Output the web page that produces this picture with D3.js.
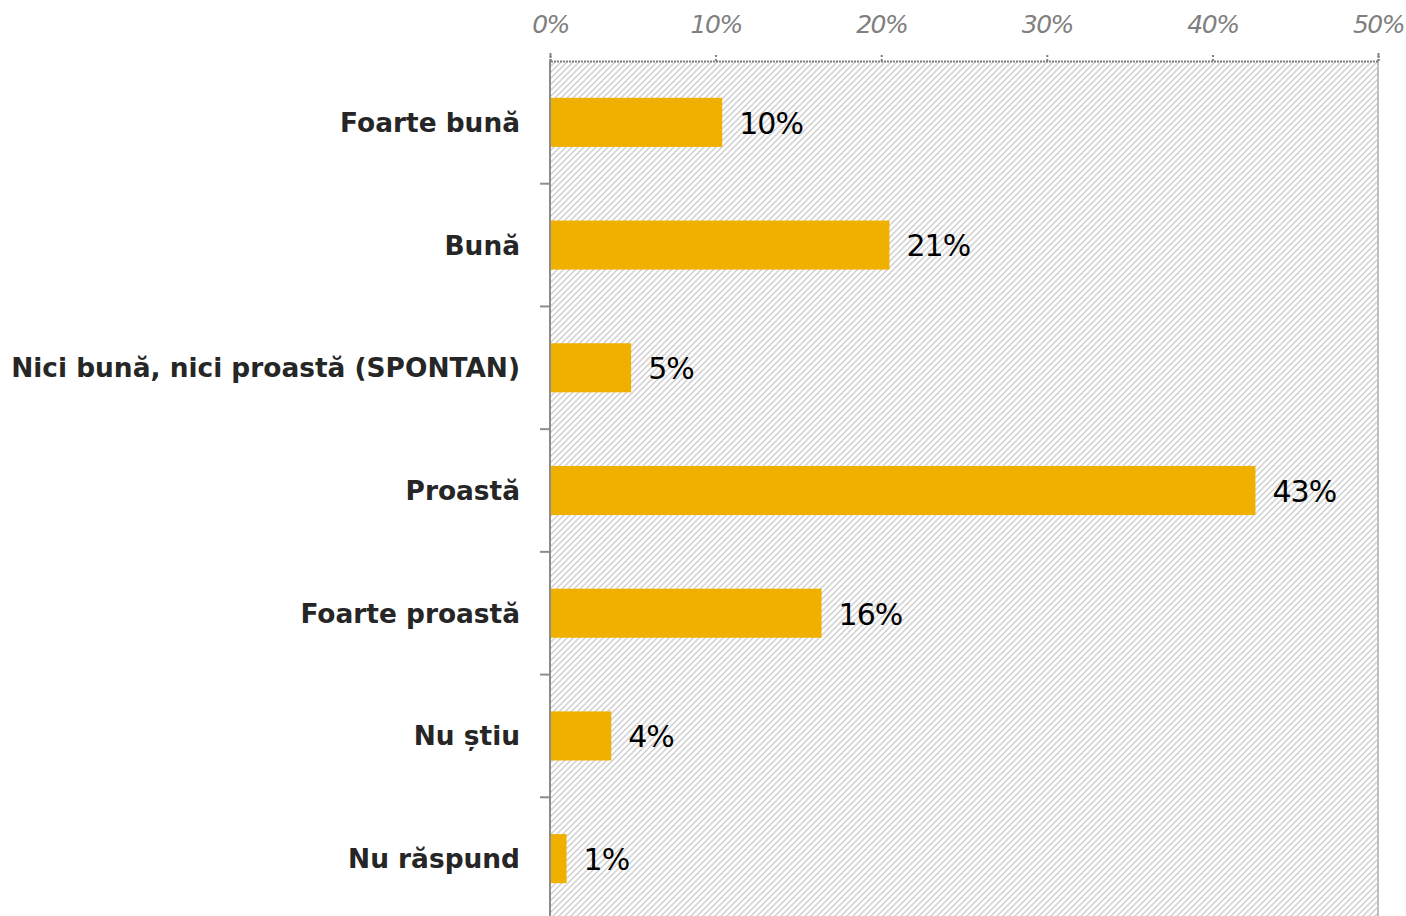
<!DOCTYPE html>
<html>
<head>
<meta charset="utf-8">
<script src="https://cdn.jsdelivr.net/npm/d3@7"></script>
<style>
  body { margin: 0; background: #fff; }
  svg { display: block; }
</style>
</head>
<body>
<div id="chart"></div>
<script>
// data
var categories = ["Foarte bună", "Bună", "Nici bună, nici proastă (SPONTAN)", "Proastă", "Foarte proastă", "Nu știu", "Nu răspund"];
var values = [10.4, 20.5, 4.9, 42.6, 16.4, 3.7, 1.0];
var xTicks = [0, 10, 20, 30, 40, 50];

var margin = {top: 61, right: 28, bottom: -4, left: 550};
var W = 1406, H = 916;
var width = W - margin.left - margin.right;
var height = H - margin.top - margin.bottom;

var svg = d3.select("#chart").append("svg")
    .attr("width", W)
    .attr("height", H);

// hatch pattern for the plot background ("/" lines)
var defs = svg.append("defs");
var pat = defs.append("pattern")
    .attr("id", "hatch")
    .attr("patternUnits", "userSpaceOnUse")
    .attr("width", 6)
    .attr("height", 6);
pat.append("path")
    .attr("d", "M-1,1 L1,-1 M0,6 L6,0 M5,7 L7,5")
    .attr("stroke", "#cdcdcd")
    .attr("stroke-width", 1.4);

var g = svg.append("g")
    .attr("transform", "translate(" + margin.left + "," + margin.top + ")");

var x = d3.scaleLinear().domain([0, 50]).range([0, width]);
var y = d3.scaleBand().domain(categories).range([0, height]).paddingInner(0.6).paddingOuter(0.3);
var step = y.step();

g.append("rect")
    .attr("width", width)
    .attr("height", height)
    .attr("fill", "url(#hatch)");

// right border
g.append("line")
    .attr("x1", width).attr("x2", width)
    .attr("y1", 0).attr("y2", height)
    .attr("stroke", "#bfbfbf")
    .attr("stroke-width", 2);

// bars
g.selectAll(".bar")
    .data(values)
    .enter().append("rect")
    .attr("class", "bar")
    .attr("x", 0)
    .attr("y", function(d, i) { return y(categories[i]); })
    .attr("width", function(d) { return x(d); })
    .attr("height", y.bandwidth())
    .attr("fill", "#f0b000");

// value labels
g.selectAll(".val")
    .data(values)
    .enter().append("text")
    .attr("class", "val")
    .attr("x", function(d) { return x(d) + 17; })
    .attr("y", function(d, i) { return y(categories[i]) + y.bandwidth() / 2; })
    .attr("dy", "0.38em")
    .style("font-family", "DejaVu Sans, sans-serif")
    .style("font-size", "30px")
    .style("letter-spacing", "-1px")
    .style("fill", "#000")
    .text(function(d) { return Math.round(d) + "%"; });

// top axis: dotted line, dotted ticks, italic grey labels
var xAxis = g.append("g")
    .call(d3.axisTop(x).tickValues(xTicks).tickSize(8).tickPadding(20)
        .tickFormat(function(d) { return d + "%"; }));
xAxis.select(".domain")
    .attr("stroke", "#808080")
    .attr("stroke-width", 2)
    .attr("stroke-dasharray", "2,1");
xAxis.selectAll(".tick line")
    .attr("stroke", "#808080")
    .attr("stroke-width", 2)
    .attr("stroke-dasharray", "2,2");
xAxis.selectAll(".tick text")
    .style("font-family", "DejaVu Sans, sans-serif")
    .style("font-style", "italic")
    .style("font-size", "25px")
    .style("letter-spacing", "-1.5px")
    .style("fill", "#808080");

// left axis: solid line with ticks between categories
var bounds = d3.range(1, categories.length).map(function(i) { return i * step; });
g.append("line")
    .attr("x1", 0).attr("x2", 0)
    .attr("y1", 0).attr("y2", height)
    .attr("stroke", "#8c8c8c")
    .attr("stroke-width", 2);
g.selectAll(".ytick")
    .data(bounds)
    .enter().append("line")
    .attr("class", "ytick")
    .attr("x1", -10).attr("x2", 0)
    .attr("y1", function(d) { return d; })
    .attr("y2", function(d) { return d; })
    .attr("stroke", "#8c8c8c")
    .attr("stroke-width", 2);

// category labels
g.selectAll(".cat")
    .data(categories)
    .enter().append("text")
    .attr("class", "cat")
    .attr("x", -30)
    .attr("y", function(d) { return y(d) + y.bandwidth() / 2; })
    .attr("dy", "0.36em")
    .attr("text-anchor", "end")
    .style("font-family", "DejaVu Sans, sans-serif")
    .style("font-weight", "bold")
    .style("font-size", "26.4px")
    .style("fill", "#262626")
    .text(function(d) { return d; });
</script>
</body>
</html>
